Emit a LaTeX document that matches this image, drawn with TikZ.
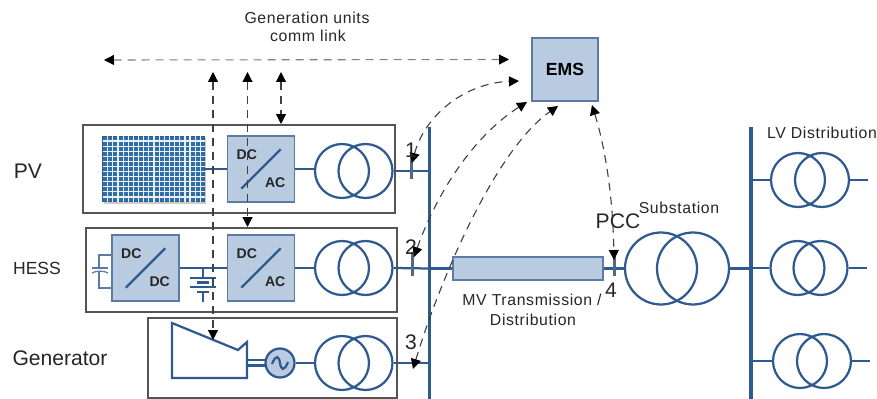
\documentclass[tikz,border=0pt]{standalone}
\usepackage{fontspec}
\setmainfont{Liberation Sans}
\newfontfamily\spaced[LetterSpace=4]{Liberation Sans}
\usepackage{tikz}
\usetikzlibrary{calc,arrows.meta}
\definecolor{gridblue}{HTML}{2F5A8F}
\definecolor{cellblue}{HTML}{2E6DA8}
\definecolor{unitfill}{HTML}{B9CBE0}
\definecolor{framegray}{HTML}{555555}
\tikzset{
	wire/.style={draw=gridblue, line width=0.45mm},
	bus/.style={draw=gridblue, line width=0.7mm},
	frame/.style={draw=framegray, line width=0.3mm},
	unit/.style={draw=gridblue!80, fill=unitfill, line width=0.3mm},
	coil/.style={draw=gridblue, line width=0.45mm, circle, inner sep=0},
	tick/.style={draw=gridblue!60!gray, line width=0.6mm},
	comm/.style={draw=black!75, line width=0.22mm, dash pattern=on 1.6mm off 1.2mm, {Triangle[color=black,length=2mm,width=2mm]}-{Triangle[color=black,length=2mm,width=2mm]}},
	conv/.style={font=\bfseries\footnotesize, text=black!85, inner sep=0},
	lbl/.style={font=\spaced\small, text=black!85, inner sep=0},
	side/.style={font=\normalsize, text=black!85, inner sep=0},
}
% two coils side by side: name, left x, right x, y, radius
\def\trafo[#1](#2:#3:#4:#5){
	\node[coil, minimum size=#5*0.04cm] (#1a) at (#2, #4) {};
	\node[coil, minimum size=#5*0.04cm] (#1b) at (#3, #4) {};
}
% box with a slash and two labels
\def\conv[#1](#2,#3)(#4)(#5){
	\node[unit, minimum width=1.34cm, minimum height=1.32cm] (#1) at (#2, #3) {};
	\draw[wire] ($(#1.south west)+(14.5,-14)$) -- ($(#1.north east)+(-14.5,14)$);
	\node[conv] at ($(#1.north west)+(20,19)$) {#4};
	\node[conv] at ($(#1.south east)+(-20,-20)$) {#5};
}
\begin{document}
\begin{tikzpicture}[x=0.02cm, y=-0.02cm]
	\useasboundingbox (0, 0) rectangle (877, 399);
	%%%%% frames %%%%%
	\draw[frame] (83, 125) rectangle (395, 213);
	\draw[frame] (86, 228) rectangle (397, 312);
	\draw[frame] (148, 318) rectangle (397, 398);

	%%%%% buses %%%%%
	\coordinate (bus1top) at (429.5, 127);
	\coordinate (bus1low) at (429.5, 399);
	\coordinate (bus2top) at (751, 127);
	\coordinate (bus2low) at (751, 399);
	\draw[bus] (bus1top) -- (bus1low);
	\draw[bus] (bus2top) -- (bus2low);

	%%%%% pv row %%%%%
	\fill[gray!40] (103.5, 137.5) rectangle (206, 203.5);
	\node[draw=gridblue, fill=cellblue, line width=0.2mm, minimum width=2.06cm, minimum height=1.32cm, inner sep=0] (panel) at (153.5, 169) {};
	\foreach \i in {1,...,19}
		\draw[white!90!cellblue, line width=0.24mm] ({102.5+\i*5.15}, 136) -- ({102.5+\i*5.15}, 202);
	\foreach \i in {1,...,12}
		\draw[white!90!cellblue, line width=0.24mm] (102.5, {136+\i*5.08}) -- (204.5, {136+\i*5.08});
	\conv[dcacpv](261, 169)(DC)(AC)
	\trafo[trafopv](342:365.5:171:27)
	\coordinate (stubpv) at (429.5, 171);
	\draw[wire] (panel.east |- dcacpv.west) -- (dcacpv.west);
	\draw[wire] (dcacpv.east) -- (dcacpv.east -| trafopva.west);
	\draw[wire] (trafopvb.east) -- (stubpv);

	%%%%% hess row %%%%%
	\conv[dcdc](145.5, 268)(DC)(DC)
	\conv[dcachess](261, 268)(DC)(AC)
	\trafo[trafohess](342:365.5:268:27)
	\coordinate (stubhess) at (429.5, 268.5);
	\draw[wire] (dcdc.east) -- (dcachess.west);
	\draw[wire] (dcachess.east) -- (dcachess.east -| trafohessa.west);
	\draw[wire] (trafohessb.east) -- (stubhess);

	\draw[wire] (203, 267) -- (203, 278);
	\draw[wire] (190, 278) -- (216, 278);
	\draw[wire] (197, 282.5) -- (209, 282.5);
	\draw[wire] (190, 287) -- (216, 287);
	\draw[wire] (197, 292) -- (209, 292);
	\draw[wire] (203, 292) -- (203, 302);

	\draw[draw=gridblue!80, line width=0.25mm] (112, 255) -- (99, 255) -- (99, 268);
	\draw[draw=gridblue!80, line width=0.25mm] (92, 268) -- (108, 268);
	\draw[draw=gridblue!80, line width=0.25mm] (92, 273) .. controls (96, 270.5) and (104, 270.5) .. (108, 273);
	\draw[draw=gridblue!80, line width=0.25mm] (99, 271) -- (99, 288) -- (112, 288);

	%%%%% generator row %%%%%
	\draw[wire] (172, 323) -- (238, 350) -- (247, 342) -- (247, 378) -- (172, 378) -- cycle;
	\node[unit, draw=gridblue, line width=0.45mm, circle, minimum size=0.58cm, inner sep=0] (genset) at (280, 363) {};
	\draw[wire] (272, 364) .. controls (276, 354) and (279, 356) .. (280, 363) .. controls (281, 370) and (284, 372) .. (288, 362);
	\draw[wire] (247, 360) -- (265.5, 360);
	\draw[wire] (247, 365.5) -- (265.5, 365.5);
	\trafo[trafogen](342:365.5:363:27)
	\coordinate (stubgen) at (429.5, 363);
	\draw[wire] (genset.east) -- (genset.east -| trafogena.west);
	\draw[wire] (trafogenb.east) -- (stubgen);

	%%%%% mv line and substation %%%%%
	\node[unit, minimum width=3cm, minimum height=0.46cm] (mvline) at (528, 268.5) {};
	\trafo[trafosub](661:693:268.5:36)
	\draw[wire] (stubhess) -- (mvline.west);
	\draw[wire] (mvline.east) -- (trafosuba.west);
	\draw[wire] (trafosubb.east) -- (751, 268.5);

	%%%%% lv side %%%%%
	\trafo[trafolvA](798:822:180:27)
	\trafo[trafolvB](797.5:820.5:268:27)
	\trafo[trafolvC](800:824:361:27)
	\coordinate (outA) at (868, 180);
	\coordinate (outB) at (867, 268);
	\coordinate (outC) at (870, 361);
	\draw[wire] (751, 180) -- (trafolvAa.west);
	\draw[wire] (751, 268) -- (trafolvBa.west);
	\draw[wire] (751, 361) -- (trafolvCa.west);
	\draw[wire] (trafolvAb.east) -- (outA);
	\draw[wire] (trafolvBb.east) -- (outB);
	\draw[wire] (trafolvCb.east) -- (outC);

	%%%%% breakers %%%%%
	\draw[tick] (411, 153) -- (411, 179);
	\draw[tick] (412, 252) -- (412, 276);
	\draw[tick] (614, 253) -- (614, 276);

	%%%%% ems %%%%%
	\node[unit, minimum width=1.32cm, minimum height=1.26cm] (ems) at (565, 69.5) {\bfseries\normalsize EMS};

	%%%%% comm links %%%%%
	\coordinate (linkL) at (104, 60);
	\coordinate (linkR) at (509, 59.5);
	\draw[comm, draw=black!50] (linkL) -- (linkR);
	\draw[comm] (213, 72) -- (213, 340);
	\draw[comm] (247.5, 72) -- (247.5, 227);
	\draw[comm] (281, 72) -- (281, 124);
	\draw[comm] (412, 163) .. controls (425, 115) and (465, 83) .. (519, 81);
	\draw[comm] (414, 257) .. controls (438, 190) and (475, 135) .. (527, 102);
	\draw[comm] (413, 369) .. controls (440, 280) and (495, 150) .. (558, 106);
	\draw[comm] (592, 105) .. controls (606, 150) and (613, 200) .. (614, 260);

	%%%%% labels %%%%%
	\node[lbl] (genlabel) at (307, 18) {Generation units};
	\node[lbl] (genlabelb) at (308, 36) {comm link};
	\node[side, font=\large] (pvlabel) at (28, 171) {PV};
	\node[side] (hesslabel) at (37, 268) {HESS};
	\node[side, font=\large] (genrow) at (60, 358) {Generator};
	\node[side, font=\large] (pcclabel) at (618, 221) {PCC};
	\node[lbl] (sublabel) at (679, 208) {Substation};
	\node[lbl] (lvlabel) at (822, 133) {LV Distribution};
	\node[lbl] (mvlabel) at (532, 300) {MV Transmission /};
	\node[lbl] (mvlabelb) at (533, 320) {Distribution};
	\node[side, font=\large] (num1) at (411, 150) {1};
	\node[side, font=\large] (num2) at (411, 247) {2};
	\node[side, font=\large] (num3) at (411, 342) {3};
	\node[side, font=\large] (num4) at (611, 290) {4};
\end{tikzpicture}
\end{document}
